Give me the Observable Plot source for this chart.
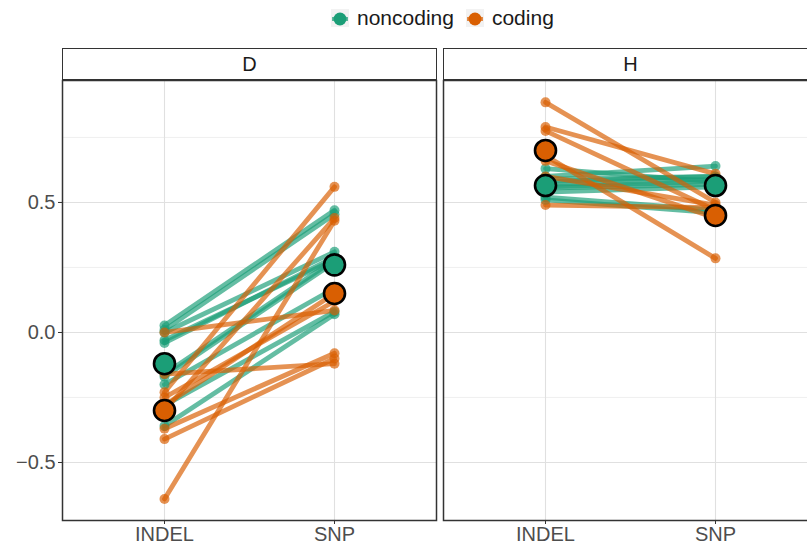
<!DOCTYPE html>
<html>
<head>
<meta charset="utf-8">
<script src="https://cdn.jsdelivr.net/npm/d3@7"></script>
<script src="https://cdn.jsdelivr.net/npm/@observablehq/plot@0.6"></script>
<style>
  html, body { margin: 0; padding: 0; background: #fff; overflow: hidden; width: 807px; height: 544px; }
  #wrap { position: relative; width: 807px; height: 544px; overflow: hidden; font-family: "Liberation Sans", Arial, sans-serif; }
  .panel { position: absolute; top: 79px; height: 465px; }
  .panel svg { display: block; max-width: none !important; }
  .strip { position: absolute; top: 48px; height: 32px; border: 1.5px solid #333; box-sizing: border-box; background: #fff;
           text-align: center; line-height: 30px; font-size: 20px; color: #1a1a1a; }
  #legend { position: absolute; top: 6px; left: 331px; height: 24px; display: flex; align-items: center; font-size: 21px; color: #1a1a1a; white-space: nowrap; }
  .key { width: 18px; height: 18px; background: #f2f2f2; margin-right: 8px; }
  .lab { margin-right: 12px; }
</style>
</head>
<body>
<div id="wrap">
  <div id="legend"></div>
  <div class="strip" style="left:62px;width:375px;">D</div>
  <div class="strip" style="left:443px;width:375px;">H</div>
  <div class="panel" id="pD" style="left:0px;width:437px;"></div>
  <div class="panel" id="pH" style="left:442px;width:376px;"></div>
</div>
<script>
// ---- data ----
const panels = ["D", "H"];
const xCats = ["INDEL", "SNP"];
const types = ["noncoding", "coding"];
const colors = ["#1b9e77", "#d95f02"];
const yTicks = [-0.5, 0, 0.5];
const yMinor = [-0.25, 0.25, 0.75];

// Panel D
const D_noncoding_INDEL = [0.027, 0.01, 0.0, -0.03, -0.04, -0.16, -0.17, -0.20, -0.28, -0.36];
const D_noncoding_SNP   = [0.47, 0.455, 0.31, 0.28, 0.29, 0.28, 0.27, 0.17, 0.08, 0.07];
const D_coding_INDEL    = [0.0, -0.16, -0.23, -0.25, -0.30, -0.37, -0.41, -0.64, -0.28];
const D_coding_SNP      = [0.085, -0.12, 0.56, 0.12, 0.44, -0.08, -0.10, 0.43, 0.15];
// Panel H
const H_noncoding_INDEL = [0.63, 0.60, 0.59, 0.57, 0.56, 0.555, 0.54, 0.52, 0.51, 0.58];
const H_noncoding_SNP   = [0.58, 0.64, 0.60, 0.59, 0.58, 0.57, 0.56, 0.47, 0.46, 0.60];
const H_coding_INDEL    = [0.885, 0.79, 0.775, 0.68, 0.66, 0.60, 0.49];
const H_coding_SNP      = [0.50, 0.61, 0.47, 0.285, 0.44, 0.49, 0.48];

// group means
const meanPanel = ["D", "D", "D", "D", "H", "H", "H", "H"];
const meanType  = ["noncoding", "noncoding", "coding", "coding", "noncoding", "noncoding", "coding", "coding"];
const meanX     = ["INDEL", "SNP", "INDEL", "SNP", "INDEL", "SNP", "INDEL", "SNP"];
const meanY     = [-0.12, 0.26, -0.30, 0.15, 0.565, 0.565, 0.70, 0.45];

// ---- build tables ----
const series = [
  ["D", "noncoding", D_noncoding_INDEL, D_noncoding_SNP],
  ["D", "coding", D_coding_INDEL, D_coding_SNP],
  ["H", "noncoding", H_noncoding_INDEL, H_noncoding_SNP],
  ["H", "coding", H_coding_INDEL, H_coding_SNP]
];
const rows = [];
for (const [panel, type, a, b] of series) {
  a.forEach((v, i) => {
    const id = panel + type + i;
    rows.push({panel, type, id, x: "INDEL", y: v});
    rows.push({panel, type, id, x: "SNP", y: b[i]});
  });
}
const means = meanY.map((y, i) => ({panel: meanPanel[i], type: meanType[i], x: meanX[i], y}));

// ---- legend ----
const legend = document.getElementById("legend");
types.forEach((t, i) => {
  const k = document.createElement("div");
  k.className = "key";
  k.innerHTML = `<svg width="18" height="18"><line x1="1" x2="17" y1="9" y2="9" stroke="${colors[i]}" stroke-width="4" stroke-opacity="0.7"/><circle cx="9" cy="9" r="6.5" fill="${colors[i]}"/></svg>`;
  const l = document.createElement("div");
  l.className = "lab";
  l.textContent = t;
  legend.append(k, l);
});

// ---- charts ----
function panelPlot(panel, withY) {
  const data = rows.filter(d => d.panel === panel);
  const m = means.filter(d => d.panel === panel);
  return Plot.plot({
    width: withY ? 437 : 376,
    height: 465,
    marginLeft: withY ? 62 : 1,
    marginRight: 1,
    marginTop: 1,
    marginBottom: 24,
    style: {fontFamily: "Liberation Sans, Arial, sans-serif", fontSize: "20px", color: "#4d4d4d", background: "transparent", overflow: "visible", maxWidth: "none"},
    x: {type: "point", domain: xCats, padding: 0.6, label: null},
    y: {domain: [-0.723, 0.969], label: null},
    color: {domain: types, range: colors},
    marks: [
      Plot.gridY(yMinor, {stroke: "#ececec", strokeOpacity: 1, strokeWidth: 0.8}),
      Plot.gridY(yTicks, {stroke: "#e0e0e0", strokeOpacity: 1, strokeWidth: 1.1}),
      Plot.gridX(xCats, {stroke: "#e0e0e0", strokeOpacity: 1, strokeWidth: 1.1}),
      withY ? Plot.axisY(yTicks, {tickFormat: d3.format(".1f"), tickSize: 4, tickPadding: 3, fontSize: 20, stroke: "#333", fill: "#4d4d4d", label: null}) : Plot.axisY([], {label: null}),
      Plot.axisX({tickSize: 4, tickPadding: 2, fontSize: 20, stroke: "#333", fill: "#4d4d4d", label: null}),
      Plot.line(data, {x: "x", y: "y", z: "id", stroke: "type", strokeWidth: 4.8, strokeOpacity: 0.68}),
      Plot.dot(data, {x: "x", y: "y", fill: "type", r: 5, fillOpacity: 0.68}),
      Plot.dot(m, {x: "x", y: "y", fill: "type", r: 10.5, stroke: "black", strokeWidth: 2.6}),
      Plot.frame({stroke: "#333", strokeWidth: 1.5})
    ]
  });
}
document.getElementById("pD").append(panelPlot("D", true));
document.getElementById("pH").append(panelPlot("H", false));
</script>
</body>
</html>
